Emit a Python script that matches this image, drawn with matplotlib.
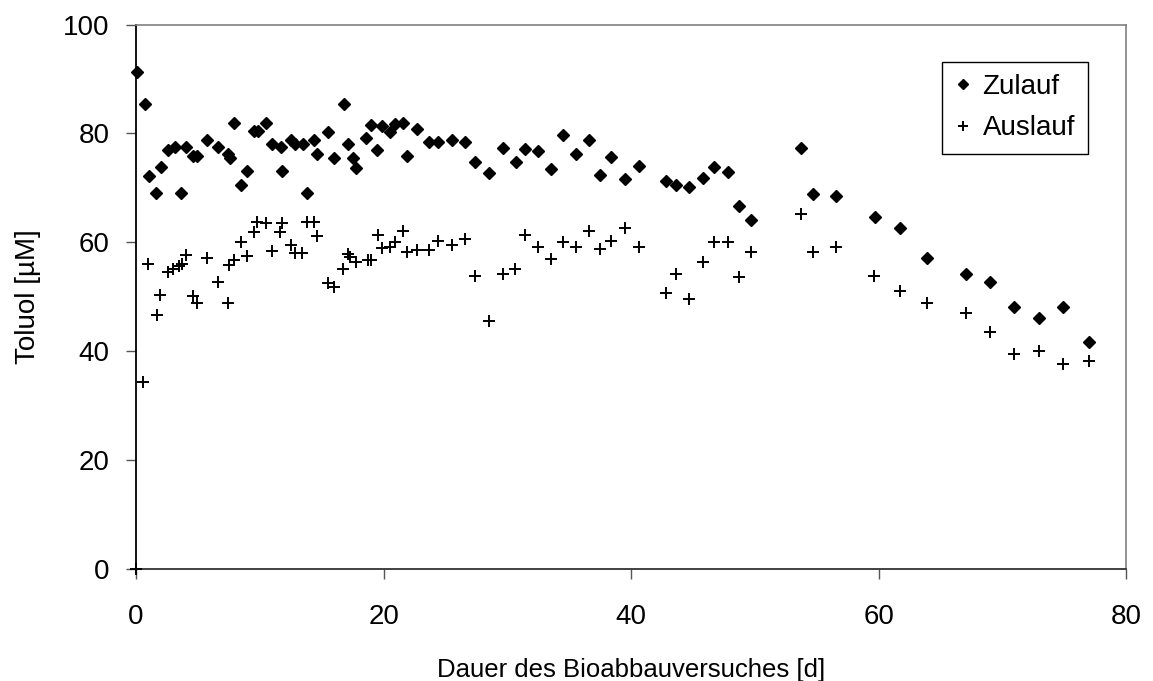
import matplotlib
matplotlib.use("Agg")
import matplotlib.pyplot as plt

plt.rcParams['font.family'] = ['Liberation Sans', 'DejaVu Sans']

# Zulauf (influent)
zu_tage = [0.1, 0.75, 1.05, 1.65, 2.0, 2.55, 3.15, 3.65, 4.0, 4.6, 4.9, 5.7, 6.6, 7.4, 7.55,
           7.9, 8.5, 8.95, 9.5, 9.85, 10.5, 11.0, 11.7, 11.8, 12.55, 12.8, 13.5, 13.8, 14.4,
           14.6, 15.5, 16.0, 16.8, 17.1, 17.5, 17.8, 18.6, 18.95, 19.5, 19.9, 20.5, 20.9,
           21.6, 21.9, 22.7, 23.65, 24.4, 25.5, 26.6, 27.4, 28.5, 29.6, 30.7, 31.4, 32.5,
           33.5, 34.5, 35.5, 36.6, 37.5, 38.4, 39.5, 40.6, 42.8, 43.6, 44.7, 45.8, 46.7,
           47.8, 48.7, 49.7, 53.7, 54.65, 56.5, 59.7, 61.7, 63.9, 67.0, 69.0, 70.9, 72.9,
           74.9, 77.0]
zu_toluol = [91.2, 85.5, 72.2, 69.0, 73.8, 77.0, 77.6, 69.0, 77.6, 75.9, 75.9, 78.8, 77.6,
             76.2, 75.5, 81.9, 70.5, 73.1, 80.5, 80.5, 82.0, 78.0, 77.6, 73.1, 78.8, 78.0,
             78.0, 69.0, 78.8, 76.2, 80.2, 75.5, 85.5, 78.0, 75.5, 73.7, 79.1, 81.6, 77.0,
             81.3, 80.2, 81.7, 82.0, 75.9, 80.8, 78.4, 78.4, 78.8, 78.4, 74.8, 72.7, 77.4,
             74.8, 77.1, 76.7, 73.4, 79.8, 76.2, 78.8, 72.4, 75.6, 71.6, 74.1, 71.3, 70.5,
             70.2, 71.9, 73.8, 73.0, 66.7, 64.2, 77.3, 68.8, 68.5, 64.6, 62.7, 57.1, 54.2,
             52.8, 48.2, 46.1, 48.2, 41.8]

# Auslauf (effluent)
aus_tage = [0.0, 0.6, 1.0, 1.7, 1.95, 2.55, 2.95, 3.5, 3.75, 4.0, 4.6, 4.9, 5.7, 6.6, 7.4,
            7.5, 7.9, 8.5, 8.95, 9.5, 9.8, 10.5, 11.0, 11.6, 11.8, 12.55, 12.8, 13.4, 13.8,
            14.4, 14.65, 15.5, 16.0, 16.75, 17.15, 17.3, 17.8, 18.7, 19.0, 19.55, 19.9,
            20.5, 20.95, 21.6, 21.9, 22.7, 23.65, 24.4, 25.5, 26.6, 27.4, 28.5, 29.6, 30.6,
            31.4, 32.5, 33.5, 34.5, 35.5, 36.6, 37.5, 38.4, 39.5, 40.6, 42.8, 43.6, 44.7,
            45.8, 46.7, 47.8, 48.7, 49.7, 53.7, 54.65, 56.5, 59.6, 61.7, 63.9, 67.0, 69.0,
            70.9, 72.9, 74.9, 77.0]
aus_toluol = [0.0, 34.3, 56.0, 46.7, 50.4, 54.5, 55.2, 55.7, 56.0, 57.7, 50.1, 48.8, 57.1,
              52.8, 48.8, 55.9, 56.7, 60.0, 57.5, 62.0, 63.8, 63.6, 58.5, 62.0, 63.5, 59.5,
              58.1, 58.1, 63.8, 63.8, 61.1, 52.5, 51.9, 55.2, 57.9, 57.3, 56.5, 56.7, 56.7,
              61.4, 58.9, 59.2, 60.0, 62.1, 58.2, 58.6, 58.6, 60.3, 59.5, 60.6, 53.8, 45.6,
              54.2, 55.2, 61.4, 59.2, 57.0, 60.0, 59.2, 62.1, 58.8, 60.3, 62.7, 59.2, 50.7,
              54.2, 49.6, 56.4, 60.0, 60.0, 53.6, 58.2, 65.2, 58.2, 59.2, 53.8, 51.1, 48.9,
              47.1, 43.6, 39.5, 40.1, 37.6, 38.2]

fig = plt.figure(figsize=(11.53, 6.81), dpi=100)
ax = fig.add_axes([0.118, 0.164, 0.859, 0.800])

ax.plot(zu_tage, zu_toluol, linestyle='none', marker='D', ms=6.0, color='black',
        label='Zulauf', clip_on=False, zorder=3)
ax.plot(aus_tage, aus_toluol, linestyle='none', marker='+', ms=9, mew=1.4, color='black',
        label='Auslauf', clip_on=False, zorder=3)

ax.set_xlim(0, 80)
ax.set_ylim(0, 100)
ax.set_xticks([0, 20, 40, 60, 80])
ax.set_yticks([0, 20, 40, 60, 80, 100])

for s in ['top', 'right']:
    ax.spines[s].set_color('#808080')
    ax.spines[s].set_linewidth(1.2)
ax.spines['left'].set_color('black')
ax.spines['bottom'].set_color('#333333')
ax.spines['left'].set_linewidth(1.3)
ax.spines['bottom'].set_linewidth(1.3)

ax.tick_params(axis='both', direction='out', length=7, width=1.0, colors='#555555',
               labelcolor='black', labelsize=20)
ax.tick_params(axis='x', pad=18)
ax.tick_params(axis='y', pad=12)

ax.set_xlabel('Dauer des Bioabbauversuches [d]', fontsize=18.5, labelpad=20)
ax.set_ylabel('Toluol [µM]', fontsize=20, labelpad=16)

leg = ax.legend(loc='upper left', bbox_to_anchor=(0.814, 0.932), fontsize=20,
                frameon=True, fancybox=False, framealpha=1, edgecolor='black',
                handlelength=0.6, handletextpad=0.4, labelspacing=0.55,
                borderpad=0.45, borderaxespad=0, markerscale=0.85)
leg.get_frame().set_linewidth(1.0)

fig.savefig('out.png', dpi=100)
